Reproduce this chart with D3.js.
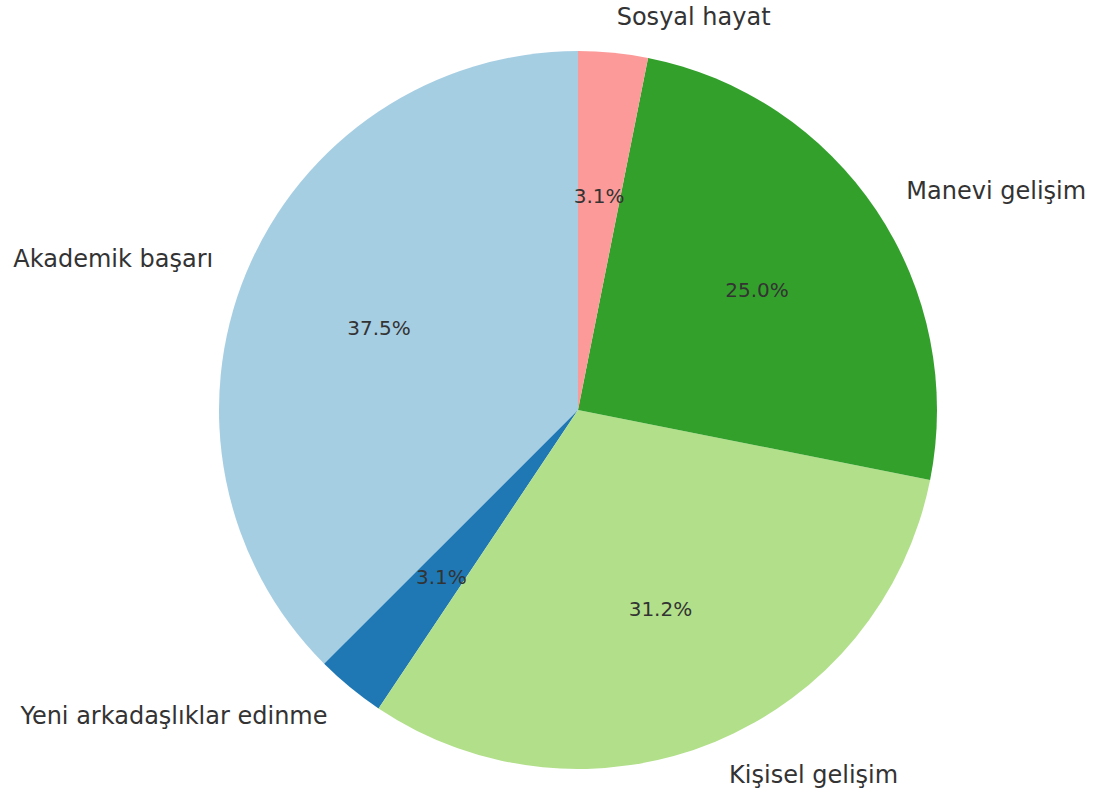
<!DOCTYPE html>
<html>
<head>
<meta charset="utf-8">
<script src="https://cdn.jsdelivr.net/npm/d3@7"></script>
<style>
  body { margin: 0; background: #fff; }
  text { font-family: "DejaVu Sans", sans-serif; fill: #333; }
</style>
</head>
<body>
<div id="container"></div>
<script>
// slices in matplotlib order (counterclockwise from the top)
const labels = ["Akademik başarı", "Yeni arkadaşlıklar edinme", "Kişisel gelişim", "Manevi gelişim", "Sosyal hayat"];
const values = [12, 1, 10, 8, 1];
const colors = ["#a6cee3", "#1f78b4", "#b2df8a", "#33a02c", "#fb9a99"];

const width = 1099, height = 798;
const cx = 578, cy = 410, radius = 359;

const svg = d3.select('#container').append('svg')
  .attr('width', width)
  .attr('height', height);

const g = svg.append('g').attr('transform', `translate(${cx},${cy})`);

const total = d3.sum(values);
const pie = d3.pie().sort(null).startAngle(0).endAngle(-2 * Math.PI);
const arcs = pie(values);
const arc = d3.arc().innerRadius(0).outerRadius(radius);

g.selectAll('path.slice')
  .data(arcs)
  .enter().append('path')
  .attr('class', 'slice')
  .attr('d', arc)
  .attr('fill', (d, i) => colors[i]);

function point(d, k) {
  const a = (d.startAngle + d.endAngle) / 2;
  return [Math.sin(a) * radius * k, -Math.cos(a) * radius * k];
}

// python style %1.1f (round half to even)
function pct(v) {
  const x = v * 10;
  const f = Math.floor(x);
  let n = x - f === 0.5 ? (f % 2 === 0 ? f : f + 1) : Math.round(x);
  return (n / 10).toFixed(1) + '%';
}

// outer labels at 1.1 r
g.selectAll('text.label')
  .data(arcs)
  .enter().append('text')
  .attr('class', 'label')
  .attr('x', d => point(d, 1.1)[0])
  .attr('y', d => point(d, 1.1)[1])
  .attr('dy', '0.35em')
  .attr('text-anchor', d => point(d, 1.1)[0] > 0 ? 'start' : 'end')
  .style('font-size', '24px')
  .text((d, i) => labels[i]);

// percentages at 0.6 r
g.selectAll('text.pct')
  .data(arcs)
  .enter().append('text')
  .attr('class', 'pct')
  .attr('x', d => point(d, 0.6)[0])
  .attr('y', d => point(d, 0.6)[1])
  .attr('dy', '0.35em')
  .attr('text-anchor', 'middle')
  .style('font-size', '20px')
  .text(d => pct(d.value / total * 100));
</script>
</body>
</html>
